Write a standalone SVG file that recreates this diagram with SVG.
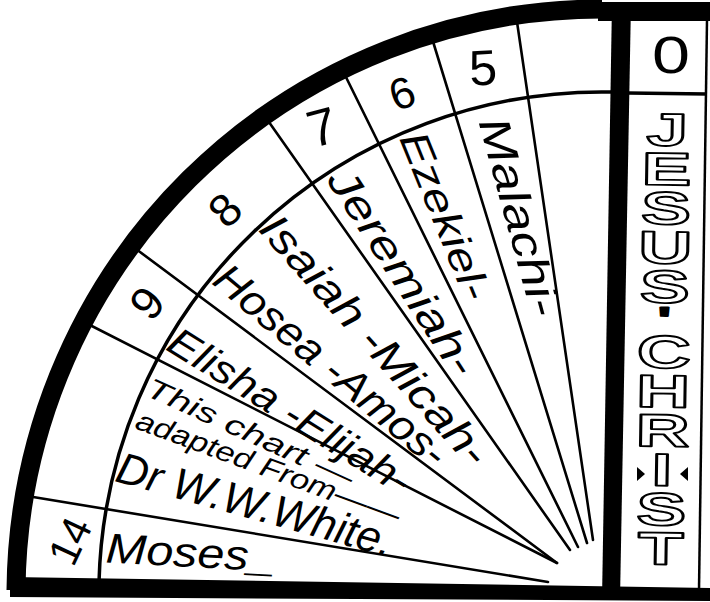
<svg xmlns="http://www.w3.org/2000/svg" width="710" height="602" viewBox="0 0 710 602">
<style>
.ray{stroke:#000;fill:none;stroke-width:2.6;stroke-linecap:round}
.arc{stroke:#000;fill:none}
.hand{font-family:"Liberation Sans",Arial,sans-serif;font-style:italic;fill:#000;dominant-baseline:central}
.num{font-family:"Liberation Sans",Arial,sans-serif;fill:#000;text-anchor:middle;dominant-baseline:central}
.jc{font-family:"Liberation Sans",Arial,sans-serif;font-weight:bold;fill:#fff;stroke:#000;stroke-width:1.9;stroke-linejoin:round;writing-mode:vertical-rl;text-orientation:upright}
</style>
<rect width="710" height="602" fill="#fff"/>
<g id="connectors">
  <line class="ray" x1="516" y1="15" x2="593" y2="540"/>
  <line class="ray" x1="431" y1="35" x2="587" y2="543"/>
  <line class="ray" x1="340" y1="65" x2="578" y2="547"/>
  <line class="ray" x1="264" y1="115" x2="570" y2="550"/>
  <line class="ray" x1="132" y1="246" x2="557" y2="563"/>
  <line class="ray" x1="82" y1="321" x2="557" y2="563"/>
  <line class="ray" x1="21" y1="495" x2="548" y2="582"/>
  <path class="arc" stroke-width="3.5" d="M 99,582 A 503 503 0 0 1 612,92"/>
  <line class="arc" stroke-width="3.5" x1="628" y1="93" x2="707" y2="94"/>
</g>
<g id="frame">
  <path class="arc" stroke-width="19" d="M 16,590 A 586 586 0 0 1 602,9"/>
  <rect x="598" y="2" width="112" height="19" fill="#000"/>
  <polygon points="612,2 631,2 620,600 602,600" fill="#000"/>
  <polygon points="10,577 710,588 710,601 10,597" fill="#000"/>
  <line x1="707" y1="20" x2="699" y2="590" stroke="#000" stroke-width="2.5"/>
</g>
<g id="cell-0">
  <text class="num" x="671" y="55" font-size="52" textLength="38" lengthAdjust="spacingAndGlyphs">0</text>
</g>
<g id="jesus-christ">
  <text class="jc" x="0" y="-236" font-size="46" textLength="470" lengthAdjust="spacing" transform="translate(664,340) rotate(0.9) scale(1.62,1)">JESUS<tspan fill="#000" font-size="34">'</tspan>CHRIST</text>
  <polygon points="637,467 645,474 637,481" fill="#000"/>
  <polygon points="688,467 680,474 688,481" fill="#000"/>
</g>
<g id="cell-5">
  <text class="num" font-size="50" transform="translate(483,68) rotate(-3)">5</text>
  <text class="hand" font-size="43" textLength="204" lengthAdjust="spacingAndGlyphs" transform="translate(493,118) rotate(74.7)">Malachi-</text>
</g>
<g id="cell-6">
  <text class="num" font-size="44" transform="translate(402,93) rotate(-20)">6</text>
  <text class="hand" font-size="40" textLength="178" lengthAdjust="spacingAndGlyphs" transform="translate(412,133) rotate(67.9)">Ezekiel-</text>
</g>
<g id="cell-7">
  <text class="num" font-size="52" transform="translate(322,127) rotate(-15)">7</text>
  <text class="hand" font-size="42" textLength="238" lengthAdjust="spacingAndGlyphs" transform="translate(338,172) rotate(57)">Jeremiah-</text>
</g>
<g id="cell-8">
  <text class="num" font-size="46" transform="translate(225,210) rotate(-45)">8</text>
  <text class="hand" font-size="42" textLength="321" lengthAdjust="spacingAndGlyphs" transform="translate(268,220) rotate(48.3)">Isaiah -Micah-</text>
  <text class="hand" font-size="42" textLength="290" lengthAdjust="spacingAndGlyphs" transform="translate(220,272) rotate(40)">Hosea -Amos-</text>
</g>
<g id="cell-9">
  <text class="num" font-size="46" transform="translate(147,303) rotate(-50)">9</text>
  <text class="hand" font-size="40" textLength="278" lengthAdjust="spacingAndGlyphs" transform="translate(172,337) rotate(31.9)">Elisha -Elijah-</text>
</g>
<g id="cell-note">
  <text class="hand" font-size="28" textLength="225" lengthAdjust="spacingAndGlyphs" transform="translate(148,386) rotate(24.4)">This chart —</text>
  <text class="hand" font-size="28" textLength="280" lengthAdjust="spacingAndGlyphs" transform="translate(137,419) rotate(20.3)">adapted From——</text>
  <text class="hand" font-size="44" textLength="285" lengthAdjust="spacingAndGlyphs" transform="translate(118,466) rotate(15.5)">Dr W.W.White.</text>
</g>
<g id="cell-14">
  <text class="num" font-size="42" transform="translate(70,541) rotate(-65)">14</text>
  <text class="hand" font-size="42" textLength="170" lengthAdjust="spacingAndGlyphs" transform="translate(106,548) rotate(3)">Moses_</text>
</g>
</svg>
